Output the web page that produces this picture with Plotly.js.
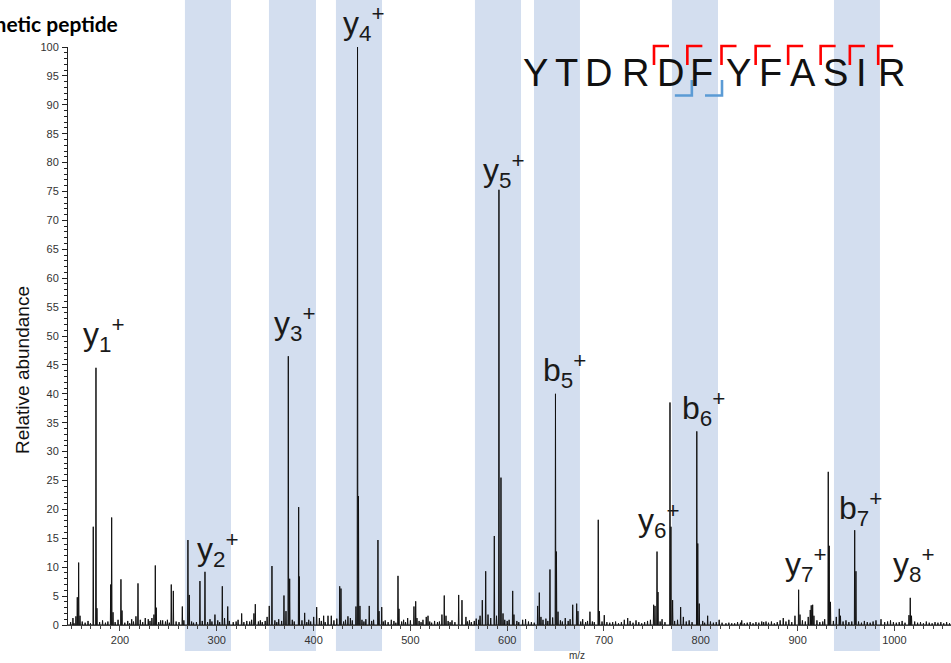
<!DOCTYPE html>
<html>
<head>
<meta charset="utf-8">
<script src="https://cdn.plot.ly/plotly-3.0.1.min.js"></script>
<style>html,body{margin:0;padding:0;background:#fff;}#chart{width:951px;height:663px;}</style>
</head>
<body>
<div id="chart"></div>
<script>
// ---------- DATA ----------
const chartTitle = "Synthetic peptide";
const xTitle = "m/z";
const yTitle = "Relative abundance";
const sequence = ["Y","T","D","R","D","F","Y","F","A","S","I","R"];
const yIonCuts = [4,5,6,7,8,9,10,11];   // cleavage after residue index (y ions, red)
const bIonCuts = [5,6];                 // b ions (blue)

// highlighted m/z windows
const bandStart = [267.1, 353.9, 423.1, 566.7, 627.7, 770.2, 937.6];
const bandEnd   = [314.7, 402.5, 470.7, 614.3, 675.2, 817.8, 985.1];

// labelled fragment ions
const ionNames = ["y1","y2","y3","y4","y5","b5","y6","b6","y7","b7","y8"];

// peaks [m/z, relative abundance]
const majorPeaks = [
 [155.9,4.8],[157.3,10.8],[172.4,17.0],[175.2,44.5],[190.4,7.0],[191.4,18.6],
 [201.0,7.9],[218.6,7.2],[236.5,10.3],[253.0,7.0],[255.1,5.9],[270.2,14.7],
 [271.6,5.2],[282.6,7.6],[287.8,9.2],[305.7,6.7],[357.0,10.2],[369.4,5.1],
 [373.9,46.5],[375.3,8.0],[384.6,20.4],[385.2,8.4],[427.0,6.7],[428.3,6.3],
 [445.4,100],[446.4,22.3],[466.5,14.7],[487.2,8.5],[535.0,5.1],[549.9,5.2],
 [577.8,9.3],[586.7,15.4],[591.5,75.3],[593.6,25.5],[605.7,5.9],[633.2,5.6],
 [644.2,9.6],[649.9,40.0],[650.9,12.7],[694.1,18.2],[754.8,12.7],[755.8,5.7],
 [768.2,38.5],[769.2,17.0],[795.9,33.5],[796.9,14.1],[901.1,6.1],[931.7,26.5],
 [932.7,13.7],[959.0,16.4],[960.3,9.3],[1016.4,4.7]
];
const minorPeaks = [
 [151.4,1.2],[154.5,1.5],[158.7,1.6],[176.2,2.9],[192.8,2.2],[202.1,2.5],
 [212.1,1.0],[216.5,1.5],[226.1,1.2],[229.2,1.0],[235.1,1.8],[237.5,3.0],
 [244.1,0.8],[264.4,3.2],[298.1,1.8],[311.3,3.2],[325.7,2.0],[338.4,2.0],
 [339.8,3.6],[354.2,3.3],[371.5,2.4],[390.8,2.1],[400.1,1.4],[403.2,3.1],
 [410.4,1.6],[414.9,1.6],[418.3,1.6],[435.5,1.5],[443.8,3.2],[447.9,3.3],
 [457.5,3.3],[467.6,2.4],[470.4,3.1],[480.3,0.9],[488.2,2.8],[497.2,1.2],
 [503.7,3.2],[505.5,4.1],[506.8,1.2],[516.4,1.4],[518.2,1.6],[532.6,1.8],
 [536.8,1.6],[553.3,4.3],[557.4,1.4],[570.6,0.9],[574.3,4.3],[580.2,1.8],
 [595.7,2.0],[607.0,1.8],[616.0,0.9],[631.5,3.3],[634.9,1.4],[652.5,2.3],
 [667.7,3.5],[671.8,3.7],[673.1,2.4],[685.5,2.3],[695.3,2.4],[700.3,1.7],
 [724.5,1.2],[733.1,0.8],[751.3,3.5],[752.7,3.3],[770.9,4.3],[779.2,3.1],
 [798.4,3.7],[807.1,1.6],[842.3,0.8],[867.4,0.6],[885.2,1.2],[897.3,1.6],
 [902.5,1.8],[913.1,2.6],[914.1,3.4],[915.6,3.5],[916.9,1.6],[934.0,4.0],
 [943.1,2.8],[944.3,1.6],[986.2,1.0],[1015.1,1.7],[1017.7,1.6]
];
const noisePeaks = [
 [149,0.5],[152.5,0.3],[161,0.6],[164,0.4],[167,0.7],[169.5,0.3],[179,0.5],[182,0.8],
 [185,0.4],[187.5,0.6],[195,0.5],[198,0.9],[205,0.4],[208,0.7],[210,0.3],[214,0.6],
 [221,0.9],[223.5,0.5],[231,0.7],[233,1.2],[240,0.5],[242,0.8],[247,0.6],[249,0.9],
 [251,0.4],[258,0.6],[261,0.5],[266,0.8],[274,0.6],[276,0.4],[279,0.5],[285,0.7],
 [290.5,0.5],[293,1.0],[295,0.6],[301,0.8],[303,0.5],[308,1.2],[313,0.7],[317,0.5],
 [320,0.6],[322,0.9],[328,0.5],[331,0.7],[334,0.6],[336,0.9],[343,0.6],[345,0.8],
 [347,0.5],[350,0.7],[352,1.4],[360,0.8],[362,0.5],[364,1.0],[367,0.7],[378,0.9],
 [380,0.6],[388,0.8],[393,0.5],[395,0.9],[397,0.6],[406,1.2],[408,0.7],[412,0.5],
 [421,0.8],[424,1.1],[431,0.6],[433,0.9],[438,1.2],[440,0.8],[450,0.9],[452,0.6],
 [454,1.0],[460,0.7],[462,0.9],[472,0.6],[474,0.8],[477,0.5],[483,0.7],[485,0.4],
 [491,0.6],[493,0.9],[495,0.5],[500,0.8],[509,0.7],[511,0.5],[513,0.9],[520,0.6],
 [522,0.4],[525,0.7],[528,0.5],[530,0.6],[539,0.7],[541,0.5],[543,0.8],[546,0.5],
 [559,0.6],[561,0.8],[563,0.5],[566,0.7],[568,1.1],[572,1.6],[583,1.2],[589,1.6],
 [597.5,0.9],[600,0.7],[602,0.9],[610,0.7],[612,0.5],[619,1.0],[622,0.6],[625,0.5],
 [628,0.4],[637,0.9],[640,1.1],[642,0.7],[647,1.3],[655,0.8],[657,0.6],[660,1.2],
 [663,0.7],[665,1.0],[676,0.6],[678,1.0],[681,0.5],[683,0.7],[688,0.6],[690,0.5],
 [698,0.6],[703,0.5],[706,0.4],[709,0.5],[712,0.6],[715,0.3],[718,0.5],[721,0.9],
 [727,0.7],[730,0.4],[736,0.5],[739,0.3],[742,0.5],[745,0.7],[748,0.9],[758,0.6],
 [760,1.0],[763,0.5],[773,0.7],[776,0.9],[782,1.4],[785,0.6],[788,0.8],[791,0.5],
 [802,0.7],[804,0.4],[810,0.6],[813,0.4],[816,0.5],[819,0.9],[822,0.4],[826,0.3],
 [829,0.4],[832,0.3],[835,0.3],[838,0.5],[841,0.4],[845,0.3],[848,0.4],[851,0.5],
 [854,0.3],[857,0.5],[860,0.4],[863,0.6],[865,0.5],[870,0.4],[873,0.6],[876,0.3],
 [879,0.5],[882,0.8],[888,0.6],[891,0.9],[894,0.5],[905,0.8],[908,0.6],[911,1.4],
 [920,0.8],[923,0.5],[926,0.6],[928,1.0],[937,0.7],[940,1.4],[947,0.6],[950,0.8],
 [953,0.5],[956,0.6],[963,0.6],[966,0.4],[969,0.7],[972,0.5],[975,0.4],[978,0.6],
 [981,0.8],[990,0.5],[993,0.6],[996,0.8],[999,0.5],[1002,0.4],[1005,0.5],[1008,0.7],
 [1011,0.4],[1021,0.6],[1024,0.4],[1027,0.5],[1030,0.3],[1033,0.6],[1036,0.4],[1039,0.3],
 [1042,0.5],[1045,0.4],[1048,0.5],[1051,0.3],[1054,0.5],[1057,0.3]
];

// ---------- LAYOUT GEOMETRY ----------
const W = 951, H = 663;
const ML = 68, MR = 0, MT = 47, MB = 38;
const PW = W - ML - MR, PH = H - MT - MB;
const Y_MAX = 100;
const px2x = p => (p - ML) / PW;
const py2y = p => (H - MB - p) / PH;

// ion label placement [m/z, abundance level]
const ionLabelPos = [
 [183.5,50.2],[301.2,13.0],[380.8,52.2],[452.1,104.1],[596.7,78.7],[658.7,44.1],
 [756.8,18.0],[802.3,37.5],[908.7,10.4],[965.5,20.2],[1020.2,10.4]
];
// sequence letter centres (pixels)
const letterPx = [535,566.7,598.3,635,670,701.7,738.3,770,803.3,835,861.7,891.7];
const letterPy = 73.5;

// ---------- BUILD TRACE ----------
const all = majorPeaks.concat(minorPeaks, noisePeaks).sort((a,b)=>a[0]-b[0]);
const xs = [146.3], ys = [0];
const hw = 0.35;
all.forEach(([m, v]) => { xs.push(m - hw, m, m + hw); ys.push(0, v, 0); });
xs.push(1058.5); ys.push(0);

const trace = {
  type: "scatter", mode: "lines", x: xs, y: ys,
  line: {color: "#111111", width: 1, simplify: false},
  hoverinfo: "skip", showlegend: false, cliponaxis: true
};

// ---------- SHAPES ----------
const shapes = [];
bandStart.forEach((s, i) => {
  shapes.push({type: "rect", xref: "x", yref: "paper", x0: s, x1: bandEnd[i],
    y0: py2y(651), y1: py2y(-2), fillcolor: "#d3deef", line: {width: 0}, layer: "below"});
});
const gapPx = i => (letterPx[i - 1] + letterPx[i]) / 2;
yIonCuts.forEach(c => {
  const gx = gapPx(c) + 1.5;
  const path = `M ${px2x(gx)},${py2y(65)} L ${px2x(gx)},${py2y(46)} L ${px2x(gx + 15)},${py2y(46)}`;
  shapes.push({type: "path", xref: "paper", yref: "paper", path, line: {color: "#ff0000", width: 2.6}});
});
bIonCuts.forEach((c, k) => {
  const gx = gapPx(c) + (k === 0 ? 6 : 2);
  const path = `M ${px2x(gx)},${py2y(80)} L ${px2x(gx)},${py2y(95.5)} L ${px2x(gx - 17)},${py2y(95.5)}`;
  shapes.push({type: "path", xref: "paper", yref: "paper", path, line: {color: "#5b9bd5", width: 2.6}});
});

// ---------- ANNOTATIONS ----------
const annotations = [];
const sansFont = "Liberation Sans, Arial, sans-serif";
ionNames.forEach((n, i) => {
  const t = `${n[0]}<sub>${n.slice(1)}</sub><sup>+</sup>`;
  annotations.push({x: ionLabelPos[i][0], y: ionLabelPos[i][1] / Y_MAX, xref: "x", yref: "paper",
    text: t, showarrow: false, xanchor: "center", yanchor: "middle",
    font: {family: sansFont, size: 32, color: "#1a1a1a"}});
});
sequence.forEach((L, i) => {
  annotations.push({x: px2x(letterPx[i]), y: py2y(letterPy), xref: "paper", yref: "paper",
    text: L, showarrow: false, xanchor: "center", yanchor: "middle",
    font: {family: sansFont, size: 38, color: "#111"}});
});
annotations.push({x: px2x(120), y: py2y(24), xref: "paper", yref: "paper",
  text: `<b>${chartTitle}</b>`, showarrow: false, xanchor: "right", yanchor: "middle",
  font: {family: "Lato, Open Sans, sans-serif", size: 21, color: "#000"}});
annotations.push({x: px2x(22), y: py2y(370), xref: "paper", yref: "paper",
  text: yTitle, textangle: -90, showarrow: false, xanchor: "center", yanchor: "middle",
  font: {family: sansFont, size: 19, color: "#111"}});
annotations.push({x: px2x(577), y: py2y(655), xref: "paper", yref: "paper",
  text: xTitle, showarrow: false, xanchor: "center", yanchor: "middle",
  font: {family: sansFont, size: 10, color: "#333"}});

const tickFont = {family: sansFont, size: 11, color: "#333"};
const layout = {
  width: W, height: H,
  margin: {l: ML, r: MR, t: MT, b: MB, pad: 0},
  paper_bgcolor: "#fff", plot_bgcolor: "rgba(0,0,0,0)",
  showlegend: false,
  xaxis: {range: [146.3, 1058.5], showgrid: false, zeroline: false,
    showline: true, linecolor: "#444", linewidth: 1,
    ticks: "outside", ticklen: 5, tickwidth: 1, tickcolor: "#444",
    tick0: 0, dtick: 100, tickfont: tickFont,
    minor: {dtick: 10, ticks: "outside", ticklen: 3, tickwidth: 1, tickcolor: "#444", showgrid: false}},
  yaxis: {range: [0, Y_MAX], showgrid: false, zeroline: false,
    showline: true, linecolor: "#222", linewidth: 1,
    ticks: "outside", ticklen: 5, tickwidth: 1, tickcolor: "#222",
    tick0: 0, dtick: 5, tickfont: tickFont, ticklabelstandoff: 1,
    minor: {dtick: 1, ticks: "outside", ticklen: 3, tickwidth: 1, tickcolor: "#222", showgrid: false}},
  shapes, annotations
};

Plotly.newPlot("chart", [trace], layout, {displayModeBar: false, staticPlot: true});
</script>
</body>
</html>
